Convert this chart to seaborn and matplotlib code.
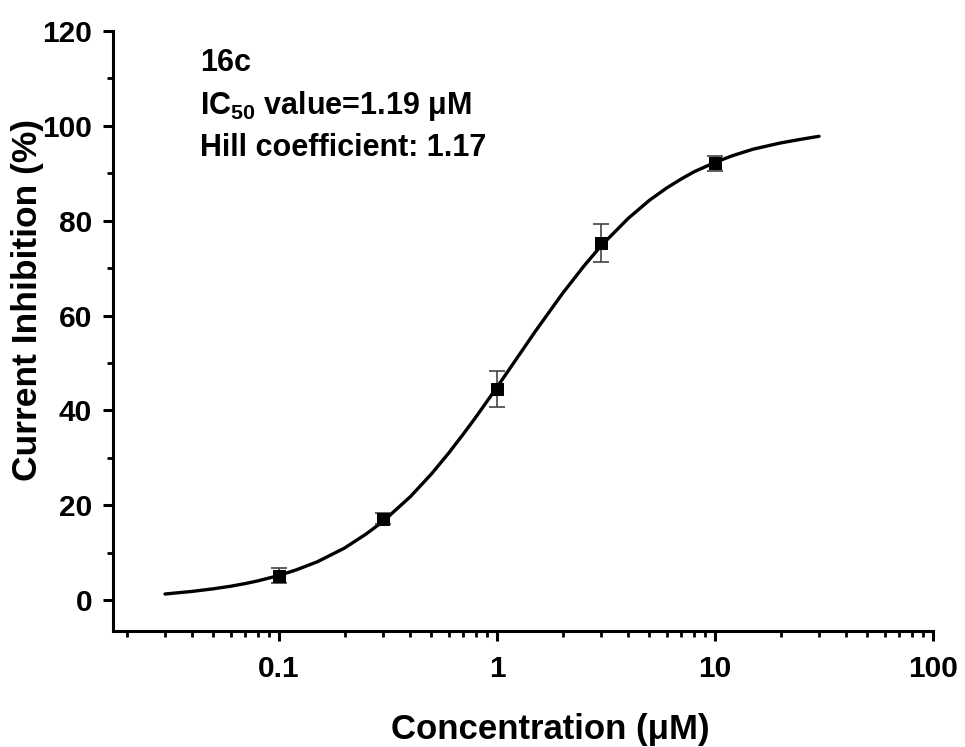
import numpy as np
import pandas as pd
import matplotlib
matplotlib.use("Agg")
import matplotlib.pyplot as plt
import seaborn as sns
from matplotlib.ticker import LogLocator, FixedLocator, NullFormatter, MultipleLocator

# measured points
conc = [0.1, 0.3, 1.0, 3.0, 10.0]
inhib = [5.2, 17.2, 44.6, 75.4, 92.1]
err = [1.5, 1.2, 3.8, 4.0, 1.6]

# fitted curve
fit_x = [0.03, 0.04, 0.05, 0.06, 0.07, 0.08, 0.1, 0.12, 0.15, 0.2, 0.25, 0.3,
         0.4, 0.5, 0.6, 0.7, 0.8, 1.0, 1.2, 1.5, 2.0, 2.5, 3.0, 4.0, 5.0,
         6.0, 7.0, 8.0, 10.0, 12.0, 15.0, 20.0, 25.0, 30.0]
fit_y = [1.3, 1.85, 2.4, 2.94, 3.5, 4.07, 5.2, 6.39, 8.1, 11.0, 13.9, 16.6,
         21.8, 26.6, 31.0, 35.0, 38.6, 44.9, 50.2, 56.7, 64.7, 70.4, 74.7,
         80.5, 84.3, 86.9, 88.8, 90.3, 92.3, 93.7, 95.1, 96.4, 97.2, 97.8]

x_ticks = [0.1, 1, 10, 100]
x_ticklabels = ["0.1", "1", "10", "100"]
y_ticks = [0, 20, 40, 60, 80, 100, 120]

sns.set_theme(style="ticks")
plt.rcParams["font.family"] = ["Liberation Sans", "DejaVu Sans"]
plt.rcParams["font.weight"] = "bold"
plt.rcParams["text.color"] = "black"
plt.rcParams["axes.labelcolor"] = "black"
plt.rcParams["xtick.color"] = "black"
plt.rcParams["ytick.color"] = "black"
plt.rcParams["mathtext.fontset"] = "custom"
plt.rcParams["mathtext.rm"] = "Liberation Sans:bold"
plt.rcParams["mathtext.it"] = "Liberation Sans:bold"
plt.rcParams["mathtext.bf"] = "Liberation Sans:bold"

fig = plt.figure(figsize=(9.65, 7.47), dpi=100)
ax = fig.add_axes([113/965, 1-631/747, (933-113)/965, (631-31)/747])

curve = pd.DataFrame({"x": fit_x, "y": fit_y})
pts = pd.DataFrame({"x": conc, "y": inhib})

sns.lineplot(data=curve, x="x", y="y", ax=ax, color="black", lw=2.4)
ax.errorbar(conc, inhib, yerr=err, fmt="none", ecolor="#444444",
            elinewidth=1.2, capsize=6, capthick=1.2, zorder=3)
sns.scatterplot(data=pts, x="x", y="y", ax=ax, marker="s", s=85,
                color="black", edgecolor="black", zorder=4)

ax.set_xscale("log")
ax.set_xlim(10**(-1.7615), 100)
ax.set_ylim(-6.5, 120)

ax.xaxis.set_major_locator(FixedLocator(x_ticks))
ax.set_xticklabels(x_ticklabels)
ax.xaxis.set_minor_locator(LogLocator(base=10, subs=np.arange(2, 10)))
ax.xaxis.set_minor_formatter(NullFormatter())
ax.yaxis.set_major_locator(FixedLocator(y_ticks))
ax.yaxis.set_minor_locator(MultipleLocator(10))

for s in ["top", "right"]:
    ax.spines[s].set_visible(False)
for s in ["left", "bottom"]:
    ax.spines[s].set_linewidth(2.2)
    ax.spines[s].set_color("black")

ax.tick_params(axis="both", which="major", direction="out", length=7,
               width=2.2, color="black", labelcolor="black", labelsize=21.5, pad=8)
ax.tick_params(axis="both", which="minor", direction="out", length=4,
               width=2.0, color="black")
ax.tick_params(axis="x", which="major", pad=10)
for lab in ax.get_xticklabels() + ax.get_yticklabels():
    lab.set_fontweight("bold")

ax.set_xlabel("Concentration (μM)", fontsize=25, fontweight="bold", color="black")
ax.set_ylabel("Current Inhibition (%)", fontsize=25.5, fontweight="bold", color="black")
ax.xaxis.set_label_coords(0.533, -0.137)
ax.yaxis.set_label_coords(-0.084, 0.552)

ax.text(0.106, 0.947, "16c", transform=ax.transAxes, fontsize=22,
        fontweight="bold", va="center", color="black")
ax.text(0.106, 0.875, "IC$_{50}$ value=1.19 μM", transform=ax.transAxes,
        fontsize=22, fontweight="bold", va="center", color="black")
ax.text(0.106, 0.805, "Hill coefficient: 1.17", transform=ax.transAxes,
        fontsize=22, fontweight="bold", va="center", color="black")

fig.savefig("out.png", dpi=100)
